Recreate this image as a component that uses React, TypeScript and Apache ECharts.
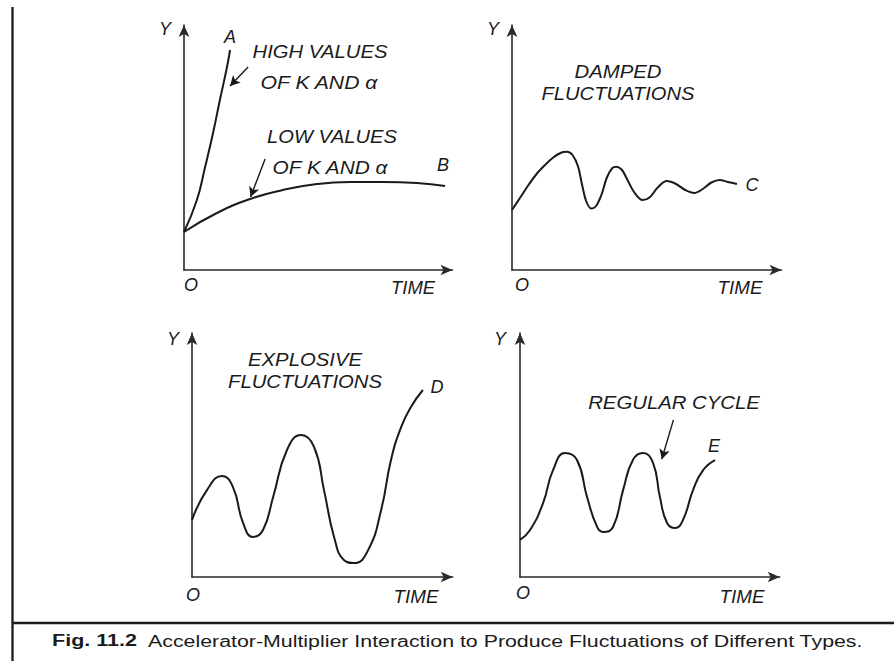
import React, { useEffect, useRef } from 'react';
import * as echarts from 'echarts';

// Curves, in abstract units (time 0..98, Y 0..98) for each panel
const curveA: [number, number][] = [[0, 15.2], [4.7, 28], [7.7, 41.2], [10.6, 54.8], [13.1, 68], [15.7, 81.2], [16.8, 88]];
const curveB: [number, number][] = [[0, 15.2], [12, 22.8], [24.1, 28.4], [36.1, 32], [48.5, 34.4], [60.6, 35.2], [72.6, 35.2], [85, 34.8], [95.3, 33.6]];
const curveC: [number, number][] = [[0, 24], [3, 29], [6, 34], [9, 38.5], [12, 42], [15, 45], [18, 47], [20, 47.3], [22, 46], [24, 41.5], [25.5, 34], [27, 27.5], [28.8, 24.6], [30.5, 25.5], [32.5, 30], [34.5, 37], [36.5, 40.8], [38, 41.3], [40, 40], [42, 36], [44.5, 31], [47.5, 28], [50, 29], [53, 33], [56.3, 35.6], [59.5, 34.5], [63, 32], [66.3, 30.8], [69.5, 32.5], [72.5, 35], [75.5, 36], [78.5, 35.2], [81.8, 34.4]];
const curveD: [number, number][] = [[0, 22.9], [5.6, 34.9], [11.3, 40.6], [15.4, 36.1], [19.2, 21.7], [22.9, 16.1], [26.7, 18.9], [30.5, 32.1], [35.7, 51], [41, 57], [45.9, 52.2], [49.6, 35], [53.4, 16.1], [57.1, 6.8], [60.9, 5.6], [66.2, 10.8], [71.1, 26.9], [74.8, 47], [78.6, 60.2], [82.3, 68.3], [86.8, 75.1]];
const curveE: [number, number][] = [[0, 14.9], [3.8, 18.9], [8.7, 29.7], [12.5, 43], [17, 49.8], [21.5, 47], [25.3, 32.1], [29.1, 20.1], [31.3, 18.1], [35.1, 20.1], [38.9, 34.9], [42.6, 47], [46.4, 49.8], [50.2, 45.8], [52.8, 32.1], [55.5, 21.7], [58.5, 19.7], [61.5, 22.9], [65.3, 34.9], [69.1, 42.9], [73.6, 46.9]];

// Annotation arrows (from, to) in panel units
const arrowHigh: [number, number][] = [[23.4, 81.2], [16.8, 73.6]];
const arrowLow: [number, number][] = [[29.6, 44.4], [24.3, 29.2]];
const arrowRegular: [number, number][] = [[57.9, 63.1], [53.5, 47.3]];

const axisMax = 98;
const caption = 'Fig. 11.2';
const captionRest = 'Accelerator-Multiplier Interaction to Produce Fluctuations of Different Types.';

const INK = '#1a1a1a';
const FAM = '"Liberation Sans", Arial, Helvetica, sans-serif';

function measure(text: string, font: string): number {
  const c = document.createElement('canvas').getContext('2d');
  if (!c) return text.length * 8;
  c.font = font;
  return c.measureText(text).width;
}

function label(text: string, cx: number, cy: number, w?: number, size = 18) {
  const font = `italic ${size}px ${FAM}`;
  const sx = w ? w / measure(text, font) : 1;
  return {
    type: 'text',
    x: cx,
    y: cy,
    scaleX: sx,
    silent: true,
    style: {
      text,
      x: 0,
      y: 0,
      fill: INK,
      font,
      textAlign: 'center',
      textVerticalAlign: 'middle',
      align: 'center',
      verticalAlign: 'middle',
    },
  };
}

export default function App() {
  const ref = useRef<HTMLDivElement>(null);
  useEffect(() => {
    if (!ref.current) return;
    const chart = echarts.init(ref.current, null, { renderer: 'svg' });

    const grids = [
      { left: 184, top: 25, width: 268.5, height: 245 },
      { left: 512, top: 25, width: 269.5, height: 245 },
      { left: 192, top: 333, width: 260.7, height: 244 },
      { left: 520, top: 333, width: 259.7, height: 244 },
    ];
    const axisLine = {
      show: true,
      onZero: false,
      symbol: ['none', 'arrow'],
      symbolSize: [8, 12],
      lineStyle: { color: '#2a2a2a', width: 1.6 },
    };
    const mkAxis = (i: number) => ({
      type: 'value',
      gridIndex: i,
      min: 0,
      max: axisMax,
      axisLine,
      axisTick: { show: false },
      axisLabel: { show: false },
      splitLine: { show: false },
    });
    const mkLine = (data: [number, number][], i: number, arrows: [number, number][][] = [], smooth = 0.5) => ({
      type: 'line',
      xAxisIndex: i,
      yAxisIndex: i,
      data,
      smooth,
      showSymbol: false,
      symbol: 'none',
      silent: true,
      lineStyle: { color: INK, width: 2 },
      markLine: arrows.length
        ? {
            silent: true,
            symbol: ['none', 'arrow'],
            symbolSize: [8, 10],
            label: { show: false },
            lineStyle: { color: INK, width: 1.4, type: 'solid' },
            data: arrows.map((a) => [{ coord: a[0] }, { coord: a[1] }]),
          }
        : undefined,
    });

    const boldFont = `bold 16px ${FAM}`;
    const normFont = `16px ${FAM}`;
    const s1 = 85 / measure(caption, boldFont);
    const s2 = 715 / measure(captionRest, normFont);

    chart.setOption({
      animation: false,
      backgroundColor: '#ffffff',
      grid: grids,
      xAxis: [0, 1, 2, 3].map(mkAxis),
      yAxis: [0, 1, 2, 3].map(mkAxis),
      series: [
        mkLine(curveA, 0, [arrowHigh]),
        mkLine(curveB, 0, [arrowLow]),
        mkLine(curveC, 1, [], 0.35),
        mkLine(curveD, 2),
        mkLine(curveE, 3, [arrowRegular]),
      ],
      graphic: [
        { type: 'line', silent: true, shape: { x1: 12.5, y1: 7, x2: 12.5, y2: 661 }, style: { stroke: INK, lineWidth: 2.3 } },
        { type: 'line', silent: true, shape: { x1: 12, y1: 623, x2: 894, y2: 623 }, style: { stroke: INK, lineWidth: 2.5 } },
        {
          type: 'text', x: 52, y: 641, scaleX: s1, silent: true,
          style: { text: caption, x: 0, y: 0, fill: INK, font: boldFont, textAlign: 'left', textVerticalAlign: 'middle', align: 'left', verticalAlign: 'middle' },
        },
        {
          type: 'text', x: 148, y: 641, scaleX: s2, silent: true,
          style: { text: captionRest, x: 0, y: 0, fill: INK, font: normFont, textAlign: 'left', textVerticalAlign: 'middle', align: 'left', verticalAlign: 'middle' },
        },
        // Panel 1
        label('Y', 165, 29),
        label('A', 230, 37),
        label('HIGH VALUES', 320, 52, 135),
        label('OF K AND α', 319, 83, 118),
        label('LOW VALUES', 332, 137, 130),
        label('OF K AND α', 330, 168, 116),
        label('B', 443, 165),
        label('O', 191, 285),
        label('TIME', 413, 288, 44),
        // Panel 2
        label('Y', 493, 29),
        label('DAMPED', 618, 72, 87),
        label('FLUCTUATIONS', 618, 94, 153),
        label('C', 752, 185),
        label('O', 522, 285),
        label('TIME', 740, 288, 45),
        // Panel 3
        label('Y', 173, 339),
        label('EXPLOSIVE', 305, 360, 114),
        label('FLUCTUATIONS', 305, 382, 154),
        label('D', 437, 387),
        label('O', 193, 595),
        label('TIME', 416, 597, 45),
        // Panel 4
        label('Y', 500, 339),
        label('REGULAR CYCLE', 674, 403, 172),
        label('E', 714, 446),
        label('O', 523, 593),
        label('TIME', 742, 597, 45),
      ],
    });
    return () => chart.dispose();
  }, []);
  return (
    <div
      ref={ref}
      style={{ position: 'absolute', left: 0, top: 0, width: 894, height: 661, background: '#fff' }}
    />
  );
}
